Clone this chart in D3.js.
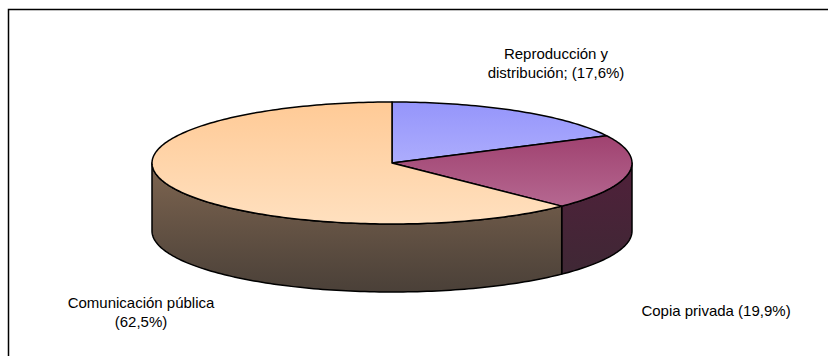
<!DOCTYPE html>
<html>
<head>
<meta charset="utf-8">
<script src="https://cdn.jsdelivr.net/npm/d3@7"></script>
<style>
  body { margin: 0; background: #fff; }
  text { font-family: "Liberation Sans", Arial, sans-serif; font-size: 15px; fill: #000; }
</style>
</head>
<body>
<div id="chart"></div>
<script>
// data
const categories = ["Reproducción y distribución", "Copia privada", "Comunicación pública"];
const shares = [17.6, 19.9, 62.5];
const labelLines = [
  ["Reproducción y", "distribución; (17,6%)"],
  ["Copia privada (19,9%)"],
  ["Comunicación pública", "(62,5%)"]
];
const topColors = [["#9595fb", "#c4c4ff"], ["#953060", "#bb7199"], ["#ffca96", "#ffe0bf"]];
const sideColors = [["#5a5a90", "#3c3c60"], ["#50203a", "#3c2934"], ["#7e6550", "#4a4038"]];

const width = 828, height = 356;
const cx = 392, cy = 163, rx = 240, ry = 61, depth = 68;

const svg = d3.select("#chart").append("svg")
  .attr("width", width)
  .attr("height", height);

// frame
svg.append("rect")
  .attr("x", 8.5).attr("y", 9.5)
  .attr("width", 840).attr("height", 400)
  .attr("fill", "#fff")
  .attr("stroke", "#000")
  .attr("stroke-width", 1.5);

const defs = svg.append("defs");
topColors.forEach((c, i) => {
  const g = defs.append("linearGradient").attr("id", "top" + i)
    .attr("gradientUnits", "userSpaceOnUse")
    .attr("x1", 0).attr("x2", 0).attr("y1", cy - ry).attr("y2", cy + ry);
  g.append("stop").attr("offset", 0).attr("stop-color", c[0]);
  g.append("stop").attr("offset", 1).attr("stop-color", c[1]);
});
sideColors.forEach((c, i) => {
  const g = defs.append("linearGradient").attr("id", "side" + i)
    .attr("gradientUnits", "userSpaceOnUse")
    .attr("x1", 0).attr("x2", 0).attr("y1", cy).attr("y2", cy + ry + depth);
  g.append("stop").attr("offset", 0).attr("stop-color", c[0]);
  g.append("stop").attr("offset", 1).attr("stop-color", c[1]);
});

const pie = d3.pie().sort(null).value(d => d)
  .startAngle(0).endAngle(2 * Math.PI);
const arcs = pie(shares);

const px = a => cx + rx * Math.sin(a);
const py = a => cy - ry * Math.cos(a);
const line = d3.line();

function arcPoints(a0, a1, dz) {
  const n = Math.max(2, Math.ceil((a1 - a0) / 0.02));
  return d3.range(n + 1).map(k => {
    const a = a0 + (a1 - a0) * k / n;
    return [px(a), py(a) + dz];
  });
}

// sides (front half only: angles between PI/2 and 3PI/2)
const sides = svg.append("g");
arcs.forEach((d, i) => {
  const a0 = Math.max(d.startAngle, Math.PI / 2);
  const a1 = Math.min(d.endAngle, 3 * Math.PI / 2);
  if (a1 <= a0) return;
  const pts = arcPoints(a0, a1, 0).concat(arcPoints(a0, a1, depth).reverse());
  sides.append("path")
    .attr("d", line(pts) + "Z")
    .attr("fill", `url(#side${i})`)
    .attr("stroke", "#000")
    .attr("stroke-width", 1.5)
    .attr("stroke-linejoin", "round");
});

// tops
const tops = svg.append("g");
arcs.forEach((d, i) => {
  const pts = [[cx, cy]].concat(arcPoints(d.startAngle, d.endAngle, 0));
  tops.append("path")
    .attr("d", line(pts) + "Z")
    .attr("fill", `url(#top${i})`)
    .attr("stroke", "#000")
    .attr("stroke-width", 1.5)
    .attr("stroke-linejoin", "round");
});

// labels
const labelPos = [[556, 59], [716, 316], [141, 308]];
arcs.forEach((d, i) => {
  const t = svg.append("text")
    .attr("x", labelPos[i][0])
    .attr("y", labelPos[i][1])
    .attr("text-anchor", "middle");
  labelLines[i].forEach((s, k) => {
    t.append("tspan")
      .attr("x", labelPos[i][0])
      .attr("dy", k === 0 ? 0 : 19)
      .text(s);
  });
});
</script>
</body>
</html>
